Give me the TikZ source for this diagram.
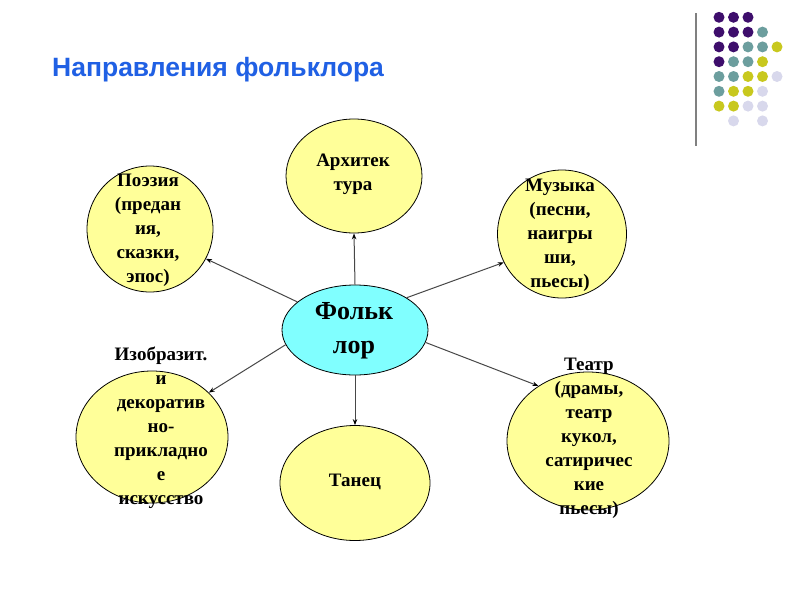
\documentclass[tikz,border=0pt]{standalone}
\usepackage{fontspec}
\setmainfont{Liberation Serif}
\newfontfamily\titlefont{Liberation Sans}
\usetikzlibrary{shapes.geometric,arrows.meta}
\definecolor{titleblue}{RGB}{32,96,228}
\definecolor{bubble}{RGB}{255,255,153}
\definecolor{core}{RGB}{128,255,255}
\definecolor{dotP}{RGB}{62,14,108}
\definecolor{dotT}{RGB}{108,158,158}
\definecolor{dotY}{RGB}{200,200,30}
\definecolor{dotL}{RGB}{216,216,236}
\tikzset{
  bub/.style={ellipse, draw=black, line width=0.8pt, fill=bubble, inner sep=0pt},
  cbub/.style={ellipse, draw=black, line width=0.8pt, fill=core, inner sep=0pt},
  lbl/.style={align=center, font=\bfseries\fontsize{19}{24}\selectfont, inner sep=0pt},
  clbl/.style={align=center, font=\bfseries\fontsize{26}{34}\selectfont, inner sep=0pt},
  link/.style={draw=black!72, line width=1pt, -{Stealth[length=6pt,width=4.5pt,black]}},
  dotstyle/.style={circle, inner sep=0pt, minimum size=11pt}
}
\begin{document}
\begin{tikzpicture}[x=1pt,y=-1pt]
\useasboundingbox[fill=white] (0,0) rectangle (800,600);
% title
\node[anchor=base west, inner sep=0pt, text=titleblue, font=\titlefont\bfseries\fontsize{26.5}{32}\selectfont] (title) at (52,76) {Направления фольклора};
% decoration
\coordinate (vtop) at (696,13);
\coordinate (vbot) at (696,146);
\draw[line width=2pt, black!50] (vtop) -- (vbot);
\foreach \row/\list in {0/{0/P,1/P,2/P},1/{0/P,1/P,2/P,3/T},2/{0/P,1/P,2/T,3/T,4/Y},3/{0/P,1/T,2/T,3/Y},4/{0/T,1/T,2/Y,3/Y,4/L},5/{0/T,1/Y,2/Y,3/L},6/{0/Y,1/Y,2/L,3/L},7/{1/L,3/L}}{
  \foreach \col/\c in \list {
    \node[dotstyle, fill=dot\c] (d\row\col) at ({719+14.5*\col},{17.3+14.8*\row}) {};
  }
}
% ellipses
\node[bub, minimum width=136pt, minimum height=114pt] (arch) at (354,176) {};
\node[bub, minimum width=126pt, minimum height=126pt] (poet) at (150,229) {};
\node[bub, minimum width=129pt, minimum height=128pt] (mus) at (562,234) {};
\node[bub, minimum width=152pt, minimum height=132pt] (izo) at (152,437) {};
\node[bub, minimum width=150pt, minimum height=115pt] (dance) at (355,483) {};
\node[bub, minimum width=162pt, minimum height=138pt] (theat) at (588,441) {};
\node[cbub, minimum width=146pt, minimum height=90pt] (core) at (355,330) {};
% labels
\node[lbl] (tarch) at (353,174) {Архитек\\тура};
\node[lbl] (tpoet) at (148,230) {Поэзия\\(предан\\ия,\\сказки,\\эпос)};
\node[lbl] (tmus) at (560,235) {Музыка\\(песни,\\наигры\\ши,\\пьесы)};
\node[lbl] (tizo) at (161,428) {Изобразит.\\и\\декоратив\\но-\\прикладно\\е\\искусство};
\node[lbl] (tdance) at (355,482) {Танец};
\node[lbl] (ttheat) at (589,438) {Театр\\(драмы,\\театр\\кукол,\\сатиричес\\кие\\пьесы)};
\node[clbl] (tcore) at (354,331) {Фольк\\лор};
% connectors
\draw[link] (core.90) -- (arch.270);
\draw[link] (core.154) -- (poet.332);
\draw[link] (core.32) -- (mus.206);
\draw[link] (core.192) -- (izo.38);
\draw[link] (core.350) -- (theat.132);
\draw[link] (core.270) -- (dance.90);
\end{tikzpicture}
\end{document}
